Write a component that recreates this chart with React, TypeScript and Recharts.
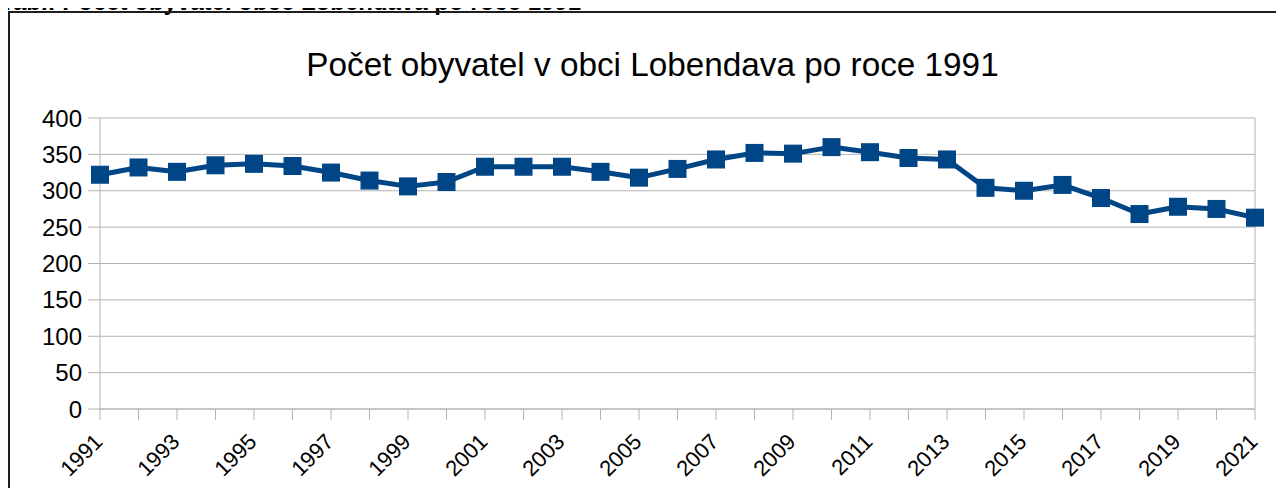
import React from "react";
import {
  LineChart,
  Line,
  XAxis,
  YAxis,
  CartesianGrid,
  ReferenceLine,
} from "recharts";

const years = [
  "1991", "1992", "1993", "1994", "1995", "1996", "1997", "1998", "1999", "2000",
  "2001", "2002", "2003", "2004", "2005", "2006", "2007", "2008", "2009", "2010",
  "2011", "2012", "2013", "2014", "2015", "2016", "2017", "2018", "2019", "2020",
  "2021",
];

const population = [
  322, 332, 326, 335, 337, 334, 325, 314, 306, 312,
  333, 333, 333, 326, 318, 330, 343, 352, 351, 360,
  353, 345, 343, 304, 300, 308, 290, 268, 278, 275,
  263,
];

const yTicks = [0, 50, 100, 150, 200, 250, 300, 350, 400];

const BLUE = "#004586";
const GRID = "#b3b3b3";
const FONT = "'Liberation Sans', Arial, sans-serif";

const data = years.map((year, i) => ({ year, value: population[i] }));

function SquareDot(props: { cx?: number; cy?: number; index?: number }) {
  const { cx, cy, index } = props;
  if (cx == null || cy == null) return null;
  return <rect key={index} x={cx - 9} y={cy - 9} width={18} height={18} fill={BLUE} />;
}

function YearTick(props: { x?: number; y?: number; payload?: { value: string } }) {
  const { x = 0, y = 0, payload } = props;
  // only every other year gets a label, ticks stay on every year
  if (!payload || Number(payload.value) % 2 === 0) return null;
  return (
    <g transform={`translate(${x + 4},${y + 21}) rotate(-45)`}>
      <text x={0} y={0} textAnchor="end" fontSize={22} fontFamily={FONT} fill="#000">
        {payload.value}
      </text>
    </g>
  );
}

export default function App() {
  return (
    <div
      style={{
        position: "relative",
        width: 1284,
        height: 496,
        margin: -8,
        overflow: "hidden",
        background: "#fff",
        fontFamily: FONT,
      }}
    >
      {/* caption above the frame, cut off by the top edge */}
      <div
        style={{
          position: "absolute",
          left: 0,
          top: -10,
          fontSize: 24,
          lineHeight: "24px",
          fontWeight: 700,
          whiteSpace: "nowrap",
          color: "#000",
        }}
      >
        Tab.: Počet obyvatel obce Lobendava po roce 1991
      </div>
      <div
        style={{
          position: "absolute",
          left: 8,
          top: 11,
          width: 1300,
          height: 520,
          borderLeft: "2px solid #1e1e1e",
          borderTop: "2px solid #1e1e1e",
        }}
      />
      <div
        style={{
          position: "absolute",
          left: 0,
          top: 48,
          width: 1305,
          textAlign: "center",
          fontSize: 33.3,
          lineHeight: "33px",
          color: "#000",
          whiteSpace: "nowrap",
        }}
      >
        Počet obyvatel v obci Lobendava po roce 1991
      </div>
      <div style={{ position: "absolute", left: 0, top: 0 }}>
        <LineChart
          width={1284}
          height={496}
          data={data}
          margin={{ top: 118, right: 29, bottom: 0, left: 0 }}
        >
          <CartesianGrid vertical={false} stroke={GRID} strokeWidth={1} />
          <XAxis
            dataKey="year"
            interval={0}
            height={87}
            tickSize={11}
            axisLine={{ stroke: GRID }}
            tickLine={{ stroke: GRID }}
            tick={<YearTick />}
          />
          <YAxis
            domain={[0, 400]}
            ticks={yTicks}
            width={100}
            tickSize={12}
            tickMargin={6}
            axisLine={{ stroke: GRID }}
            tickLine={{ stroke: GRID }}
            tick={{ fontSize: 24, fill: "#000", fontFamily: FONT }}
          />
          <ReferenceLine x="2021" stroke={GRID} strokeWidth={1} />
          <Line
            type="linear"
            dataKey="value"
            stroke={BLUE}
            strokeWidth={5}
            strokeLinejoin="round"
            dot={<SquareDot />}
            activeDot={false}
            isAnimationActive={false}
          />
        </LineChart>
      </div>
    </div>
  );
}
